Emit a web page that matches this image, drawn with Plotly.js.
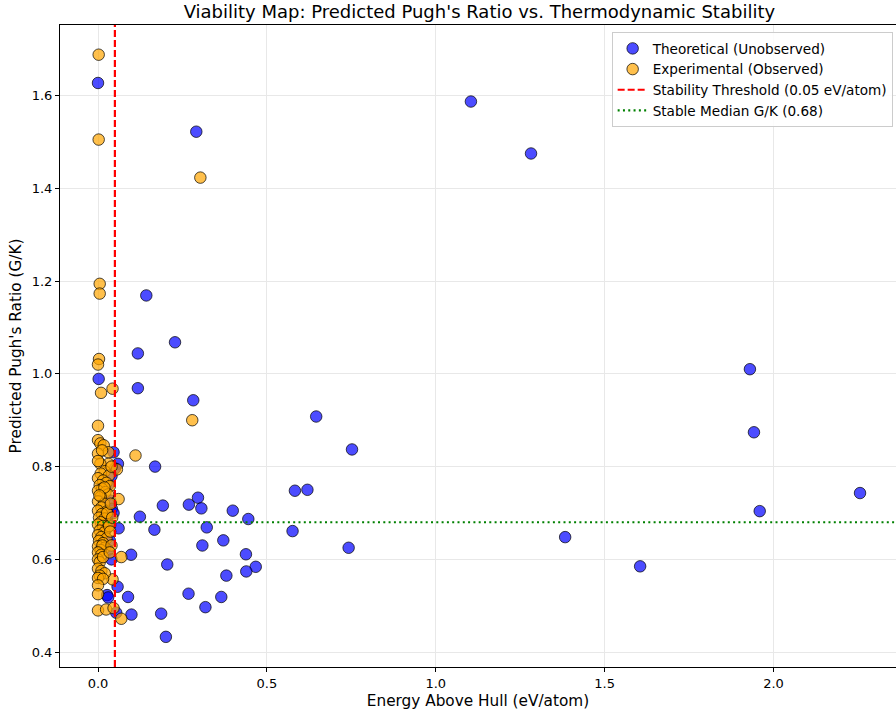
<!DOCTYPE html>
<html>
<head>
<meta charset="utf-8">
<script src="https://cdn.plot.ly/plotly-3.0.1.min.js"></script>
<style>html,body{margin:0;padding:0;background:#fff;}#chart{width:896px;height:712px;}</style>
</head>
<body>
<div id="chart"></div>
<script>
// Theoretical (Unobserved) materials
const theoX = [0.000,0.291,1.104,1.282,0.143,0.228,0.118,0.002,0.118,0.282,1.930,0.646,1.942,0.752,0.169,2.256,1.959,0.583,0.620,0.296,0.269,0.192,0.306,0.399,0.124,0.445,0.167,0.322,0.576,1.383,0.309,0.371,0.742,0.438,0.098,0.205,1.605,0.467,0.380,0.439,0.268,0.365,0.089,0.318,0.187,0.099,0.201,0.058,0.027,0.030,0.054,0.061,0.046,0.059,0.050,0.036,0.041,0.027,0.036,0.046,0.030,0.040,0.035,0.030,0.040,0.020];
const theoY = [1.627,1.522,1.587,1.475,1.169,1.068,1.044,0.989,0.969,0.943,1.010,0.908,0.874,0.837,0.800,0.743,0.704,0.748,0.750,0.733,0.718,0.716,0.710,0.705,0.692,0.687,0.664,0.669,0.661,0.648,0.630,0.641,0.625,0.611,0.610,0.589,0.585,0.584,0.565,0.574,0.526,0.519,0.519,0.497,0.483,0.481,0.433,0.541,0.523,0.518,0.485,0.667,0.831,0.806,0.796,0.727,0.709,0.688,0.674,0.700,0.760,0.780,0.640,0.620,0.600,0.660];
// Experimental (Observed) materials
const expX = [0.002,0.002,0.303,0.005,0.005,0.003,0.000,0.009,0.043,0.000,0.279,0.111,0.061,0.069,0.000,0.024,0.046,0.069,0.043,
  0.000,0.007,0.017,0.031,0.000,0.012,0.031,0.007,0.000,0.056,0.020,0.008,0.032,0.000,0.015,0.025,0.005,0.035,0.012,0.000,0.022,0.030,0.008,0.000,0.018,0.010,0.000,0.025,0.012,0.003,0.020,0.008,0.000,0.015,0.028,0.005,0.018,0.000,0.010,0.025,0.003,0.015,0.000,0.020,0.008,0.013,0.000,0.010,0.000,0.005,0.015,0.000,0.010,0.020,0.005,0.000,0.015,0.000,0.000,0.019,0.027,0.004,0.033,
  0.040,0.038,0.042,0.036,0.040,0.035];
const expY = [1.688,1.505,1.423,1.194,1.173,1.032,1.020,0.959,0.968,0.888,0.900,0.824,0.730,0.605,0.490,0.492,0.495,0.472,0.557,
  0.857,0.850,0.846,0.831,0.828,0.835,0.806,0.806,0.812,0.794,0.790,0.785,0.780,0.775,0.770,0.765,0.760,0.758,0.752,0.748,0.745,0.740,0.735,0.725,0.720,0.712,0.705,0.703,0.698,0.690,0.688,0.680,0.675,0.672,0.668,0.662,0.658,0.652,0.648,0.645,0.640,0.635,0.628,0.625,0.620,0.630,0.615,0.610,0.600,0.594,0.605,0.580,0.575,0.570,0.565,0.560,0.558,0.544,0.525,0.755,0.700,0.738,0.672,
  0.800,0.720,0.690,0.660,0.630,0.615];
const thresholdX = 0.05;
const medianGK = 0.68;
const xRange = [-0.1125, 2.3625];
const yRange = [0.368, 1.752];

const font = "DejaVu Sans, sans-serif";
const traces = [
  {type:'scatter', mode:'markers', name:'Theoretical (Unobserved)', x:theoX, y:theoY,
   marker:{size:11.5, color:'rgba(0,0,255,0.7)', line:{color:'rgba(0,0,0,0.7)', width:1}}},
  {type:'scatter', mode:'markers', name:'Experimental (Observed)', x:expX, y:expY,
   marker:{size:11.5, color:'rgba(255,165,0,0.7)', line:{color:'rgba(0,0,0,0.7)', width:1}}},
  {type:'scatter', mode:'lines', name:'Stability Threshold (0.05 eV/atom)', x:[thresholdX, thresholdX], y:yRange,
   line:{color:'red', width:2.2, dash:'7px,3px'}, hoverinfo:'skip'},
  {type:'scatter', mode:'lines', name:'Stable Median G/K (0.68)', x:xRange, y:[medianGK, medianGK],
   line:{color:'green', width:2.2, dash:'2px,3.3px'}, hoverinfo:'skip'}
];
const axisCommon = {showline:true, linecolor:'#000', linewidth:1, mirror:true, ticks:'outside', ticklen:4, tickcolor:'#000',
  showgrid:true, gridcolor:'#e8e8e8', gridwidth:1, zeroline:false, tickfont:{family:font, size:13, color:'#000'}};
const layout = {
  width:896, height:712, paper_bgcolor:'#fff', plot_bgcolor:'#fff',
  margin:{l:60, r:0, t:25, b:45, autoexpand:false},
  title:{text:"Viability Map: Predicted Pugh's Ratio vs. Thermodynamic Stability", font:{family:font, size:18, color:'#000'}, x:0.535, xanchor:'center', y:0.983, yanchor:'middle'},
  xaxis:Object.assign({}, axisCommon, {range:xRange, tickvals:[0,0.5,1.0,1.5,2.0], tickformat:'.1f',
    title:{text:'Energy Above Hull (eV/atom)', font:{family:font, size:15.3, color:'#000'}, standoff:5}}),
  yaxis:Object.assign({}, axisCommon, {range:yRange, tickvals:[0.4,0.6,0.8,1.0,1.2,1.4,1.6], tickformat:'.1f',
    title:{text:"Predicted Pugh's Ratio (G/K)", font:{family:font, size:15.3, color:'#000'}, standoff:6}}),
  legend:{x:0.996, y:0.989, xanchor:'right', yanchor:'top', bgcolor:'rgba(255,255,255,0.85)', bordercolor:'#cccccc', borderwidth:1,
    font:{family:font, size:13.6, color:'#000'}, tracegroupgap:0, itemwidth:30},
  showlegend:true
};
Plotly.newPlot('chart', traces, layout, {displayModeBar:false, staticPlot:true});
</script>
</body>
</html>
